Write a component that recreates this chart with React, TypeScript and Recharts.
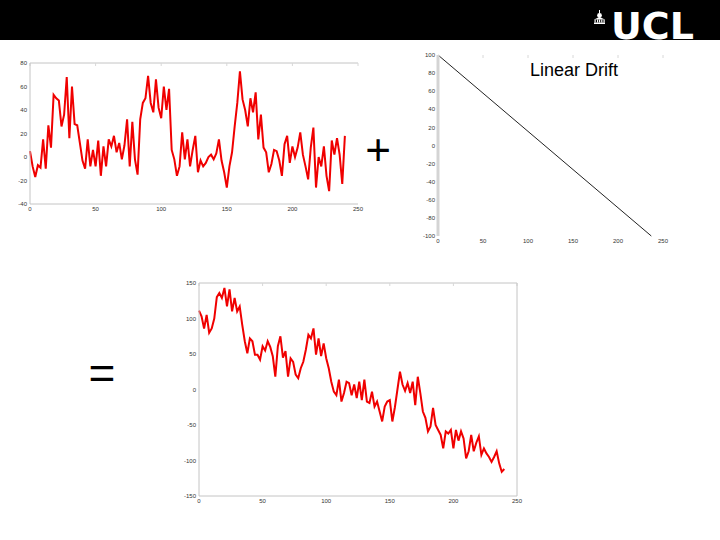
import { LineChart, Line, XAxis, YAxis } from 'recharts';

// samples are every 2 time units
const sampleStep = 2;

const signalValues = [
  5, -8, -17, -7, -9, 15, -10, 27, 8, 53,
  50, 48, 26, 36, 68, 16, 60, 28, 27, 12,
  -3, -10, 15, -8, 6, -8, 14, -16, 9, -8,
  15, 9, 18, 4, 12, -2, 10, 32, -8, 30,
  -2, -15, 32, 46, 50, 69, 46, 38, 66, 42,
  33, 60, 40, 58, 6, -2, -16, -8, 21, -2,
  15, -8, 6, 18, -13, -3, -8, -5, 0, 2,
  -2, 3, 15, -3, -13, -26, -8, 4, 26, 46,
  73, 49, 40, 26, 50, 38, 55, 15, 36, 8,
  4, -13, -6, 6, 5, -3, -16, 11, 18, -5,
  9, 0, 8, 21, 2, -8, -19, 8, 25, -26,
  0, -8, 9, -16, -29, 14, 2, 16, 2, -23,
  18,
];

const combinedValues = [
  111, 103, 86, 105, 80, 86, 100, 130, 136, 129,
  143, 117, 141, 110, 129, 110, 117, 91, 68, 51,
  72, 68, 49, 49, 42, 61, 55, 68, 60, 47,
  18, 61, 75, 45, 54, 18, 44, 39, 21, 16,
  30, 39, 56, 77, 72, 86, 49, 72, 47, 65,
  44, 30, 11, -3, -8, 14, -17, -5, 11, 9,
  -8, 7, -12, 11, -15, 14, -17, -19, -3, -24,
  -17, -31, -45, -24, -17, -15, -45, -25, 0, 25,
  7, -2, 9, -5, 11, -22, 18, -5, -31, -40,
  -59, -52, -26, -50, -57, -64, -83, -59, -62, -57,
  -83, -57, -72, -59, -69, -97, -87, -64, -87, -75,
  -66, -92, -83, -90, -95, -102, -95, -87, -104, -116,
  -112,
];

const driftTimes = [0, 237];
const driftValues = [100, -100];

const timeTicks = [0, 50, 100, 150, 200, 250];
const signalTicks = [-40, -20, 0, 20, 40, 60, 80];
const driftTicks = [-100, -80, -60, -40, -20, 0, 20, 40, 60, 80, 100];
const combinedTicks = [-150, -100, -50, 0, 50, 100, 150];

const toRows = (values: number[]) => values.map((v, i) => ({ t: i * sampleStep, v }));
const signalRows = toRows(signalValues);
const combinedRows = toRows(combinedValues);
const driftRows = driftTimes.map((t, i) => ({ t, v: driftValues[i] }));

const font = 'Liberation Sans, Arial, sans-serif';
const tickStyle = { fontSize: 6, fill: '#333', fontFamily: font };
const frame = '#c4c4c4';
const blank = () => '';

type PanelProps = {
  data: { t: number; v: number }[];
  yTicks: number[];
  left: number;
  top: number;
  width: number;
  height: number;
  yWidth: number;
  margin: { top: number; right: number; bottom: number; left: number };
  xHeight: number;
  xGap: number;
  color: string;
  lineWidth: number;
  boxTop: boolean;
  boxRight: boolean;
  leftAxis: { stroke: string; strokeWidth: number };
  bottomAxis: boolean;
};

function Panel(p: PanelProps) {
  const yDomain = [p.yTicks[0], p.yTicks[p.yTicks.length - 1]];
  return (
    <div style={{ position: 'absolute', left: p.left, top: p.top }}>
      <LineChart width={p.width} height={p.height} data={p.data} margin={p.margin}>
        <XAxis
          dataKey="t"
          type="number"
          domain={[0, 250]}
          ticks={timeTicks}
          interval={0}
          height={p.xHeight}
          tickSize={0}
          tickMargin={p.xGap}
          tickLine={false}
          axisLine={p.bottomAxis ? { stroke: frame } : false}
          tick={tickStyle}
        />
        <XAxis
          xAxisId="top"
          dataKey="t"
          type="number"
          orientation="top"
          mirror
          domain={[0, 250]}
          ticks={timeTicks}
          interval={0}
          tickSize={3}
          tickFormatter={blank}
          stroke="#d8d8d8"
          axisLine={p.boxTop ? { stroke: frame } : false}
        />
        <YAxis
          type="number"
          domain={yDomain}
          ticks={p.yTicks}
          interval={0}
          width={p.yWidth}
          tickSize={0}
          tickMargin={3}
          tickLine={false}
          axisLine={p.leftAxis}
          tick={tickStyle}
        />
        <YAxis
          yAxisId="right"
          type="number"
          orientation="right"
          mirror
          domain={yDomain}
          ticks={p.yTicks}
          interval={0}
          tickSize={3}
          tickFormatter={blank}
          stroke="#d8d8d8"
          axisLine={p.boxRight ? { stroke: frame } : false}
        />
        <Line
          dataKey="v"
          stroke={p.color}
          strokeWidth={p.lineWidth}
          dot={false}
          isAnimationActive={false}
        />
      </LineChart>
    </div>
  );
}

export default function App() {
  return (
    <div
      style={{
        position: 'absolute',
        left: 0,
        top: 0,
        width: 720,
        height: 540,
        background: '#fff',
        overflow: 'hidden',
        fontFamily: font,
      }}
    >
      <svg width={720} height={54} style={{ position: 'absolute', left: 0, top: 0 }}>
        <rect x={0} y={0} width={720} height={40} fill="#000" />
        {/* little portico next to the logo */}
        <g fill="#fff">
          <rect x={599} y={10} width={1} height={3} />
          <circle cx={599.5} cy={15.5} r={2.4} />
          <polygon points="594,19.5 599.5,17 605,19.5" />
          <rect x={594.5} y={19.5} width={1.2} height={3} />
          <rect x={597} y={19.5} width={1.2} height={3} />
          <rect x={599} y={19.5} width={1.2} height={3} />
          <rect x={601.2} y={19.5} width={1.2} height={3} />
          <rect x={603.5} y={19.5} width={1.2} height={3} />
          <rect x={594} y={22.5} width={11} height={1.5} />
        </g>
        <text x={611} y={39} fill="#fff" fontSize={38} fontWeight="bold" fontFamily="DejaVu Sans, sans-serif">
          UCL
        </text>
      </svg>

      <Panel
        data={signalRows}
        yTicks={signalTicks}
        left={0}
        top={55}
        width={370}
        height={165}
        yWidth={30}
        margin={{ top: 8, right: 12, bottom: 2, left: 0 }}
        xHeight={14}
        xGap={3}
        color="#f00000"
        lineWidth={2}
        boxTop
        boxRight={false}
        leftAxis={{ stroke: frame, strokeWidth: 1 }}
        bottomAxis
      />

      <Panel
        data={driftRows}
        yTicks={driftTicks}
        left={410}
        top={45}
        width={270}
        height={205}
        yWidth={28}
        margin={{ top: 10, right: 17, bottom: 2, left: 0 }}
        xHeight={12}
        xGap={3}
        color="#222"
        lineWidth={1}
        boxTop={false}
        boxRight={false}
        leftAxis={{ stroke: '#d4d4d4', strokeWidth: 3 }}
        bottomAxis={false}
      />

      <Panel
        data={combinedRows}
        yTicks={combinedTicks}
        left={165}
        top={275}
        width={365}
        height={235}
        yWidth={34}
        margin={{ top: 8, right: 13, bottom: 2, left: 0 }}
        xHeight={12}
        xGap={3}
        color="#f00000"
        lineWidth={2}
        boxTop
        boxRight
        leftAxis={{ stroke: frame, strokeWidth: 1 }}
        bottomAxis
      />

      <svg width={720} height={540} style={{ position: 'absolute', left: 0, top: 0, pointerEvents: 'none' }}>
        <text x={530} y={76} fontSize={18} fontFamily={font} fill="#000">
          Linear Drift
        </text>
        <text x={378} y={165} fontSize={44} fontFamily={font} fill="#000" textAnchor="middle">
          +
        </text>
        <text x={102} y={389} fontSize={46} fontFamily={font} fill="#000" textAnchor="middle">
          =
        </text>
      </svg>
    </div>
  );
}
